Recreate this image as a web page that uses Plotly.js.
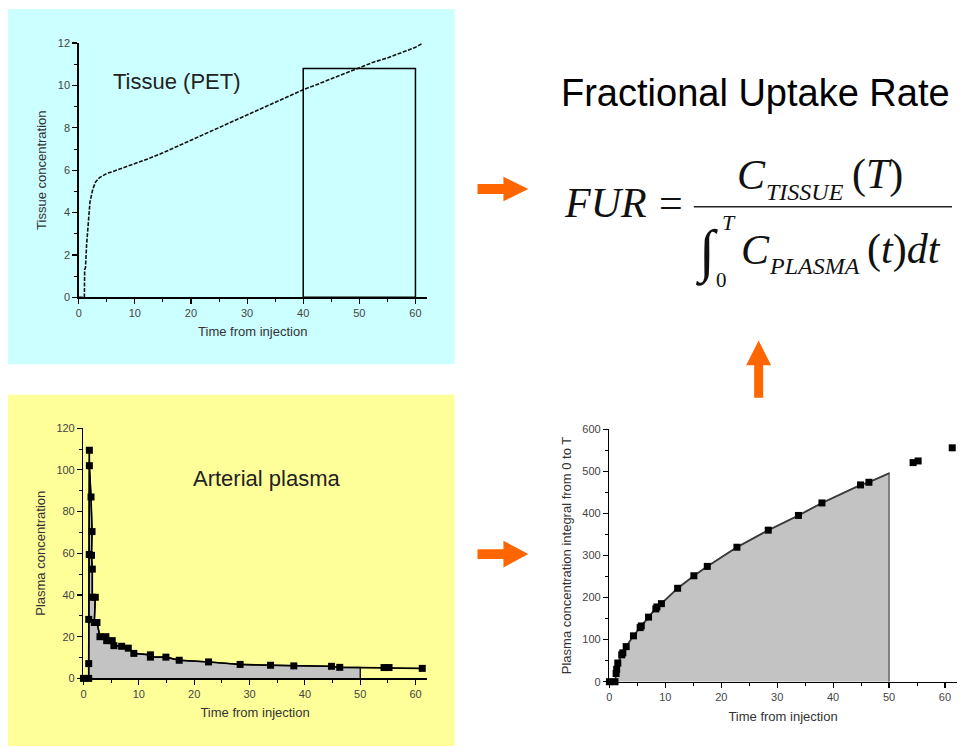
<!DOCTYPE html>
<html><head><meta charset="utf-8">
<script src="https://cdn.plot.ly/plotly-3.0.1.min.js"></script>
<style>html,body{margin:0;padding:0;background:#fff;overflow:hidden}</style>
</head><body><div id="chart" style="width:962px;height:752px"></div>
<script>
// ---------------- data ----------------
const tissueTime = [0, 1.0, 1.05, 1.2, 1.4, 1.7, 2.0, 2.5, 3.0, 3.7, 4.3, 5, 6, 8.4, 10.2, 12.5, 15, 17.5, 20.2, 22.5, 25, 27.5, 30.3, 32.5, 35, 37.5, 40, 42.5, 45, 47.5, 49.8, 52.5, 55, 57.5, 60, 61.3];
const tissueConc = [0, 0, 1.3, 1.4, 2.5, 3.6, 4.5, 5.1, 5.45, 5.65, 5.75, 5.85, 5.93, 6.15, 6.32, 6.55, 6.82, 7.12, 7.45, 7.72, 8.02, 8.32, 8.64, 8.92, 9.22, 9.52, 9.8, 10.05, 10.32, 10.58, 10.84, 11.1, 11.3, 11.55, 11.8, 12.0];

const plasmaTime = [0, 0.95, 0.95, 0.95, 1.05, 1.07, 1.07, 1.37, 1.55, 1.45, 1.6, 1.6, 2.14, 1.96, 2.44, 2.98, 4.05, 4.2, 5.2, 5.5, 6.9, 8.1, 9.1, 12.1, 12.1, 14.9, 17.3, 22.6, 28.3, 33.8, 38.0, 44.8, 46.3, 54.3, 55.2, 61.2];
const plasmaConc = [0, 0, 7.1, 28.3, 59.4, 109.4, 102, 87, 70.4, 59, 52.4, 38.9, 38.9, 26.8, 26.8, 20, 20, 18.1, 18.1, 15.7, 15.4, 14.5, 12, 11.3, 10.2, 10.2, 8.7, 7.9, 6.7, 6.3, 6.0, 5.8, 5.3, 5.2, 5.2, 4.8];

const integralTime  = [0, 1.0, 1.2, 1.3, 1.5, 2.2, 2.4, 3.0, 4.3, 5.5, 5.7, 7.0, 8.3, 8.5, 9.3, 12.2, 15.1, 17.5, 22.8, 28.4, 33.8, 38.0, 44.9, 46.4, 54.3, 55.2, 61.3];
const integralValue = [0, 0, 19.5, 29.6, 44.4, 63.9, 68.6, 83.4, 109, 128.6, 132.5, 153.5, 173, 177.7, 185.5, 222, 251.7, 274, 319.5, 360, 395, 424.7, 467.5, 473.8, 520.5, 524.4, 555.6];

const timeTicks = [0, 10, 20, 30, 40, 50, 60];
const tissueTicks = [0, 2, 4, 6, 8, 10, 12];
const plasmaTicks = [0, 20, 40, 60, 80, 100, 120];
const integralTicks = [0, 100, 200, 300, 400, 500, 600];

const integrationEnd = 50;     // T used for the shaded integral
const windowStart = 40;        // tissue frame
const windowEnd = 60;
const windowLevel = 10.8;

const xTitle = 'Time from injection';
const tissueTitle = 'Tissue concentration';
const plasmaTitle = 'Plasma concentration';
const integralTitle = 'Plasma concentration integral from 0 to T';

// ---------------- helpers ----------------
const W = 962, H = 752;
const px = v => v / W;
const py = v => 1 - v / H;

function clipAt(xs, ys, cut) {
  const ox = [], oy = [];
  let j = -1;
  for (let i = 0; i < xs.length; i++) {
    if (xs[i] > cut) { j = i; break; }
    ox.push(xs[i]); oy.push(ys[i]);
  }
  if (j > 0) {
    const f = (cut - xs[j - 1]) / (xs[j] - xs[j - 1]);
    ox.push(cut); oy.push(ys[j - 1] + f * (ys[j] - ys[j - 1]));
  }
  return {x: ox, y: oy};
}

const SANS = 'Liberation Sans, Arial, sans-serif';
const SERIF = 'Liberation Serif, Times New Roman, serif';

function xAxis(domain, range, anchor) {
  return {
    domain, range, anchor, tickmode: 'array', tickvals: timeTicks,
    showline: true, linecolor: '#000', linewidth: 1.5,
    ticks: 'outside', ticklen: 5, tickwidth: 1.2, tickcolor: '#000',
    minor: {dtick: 5, tick0: 0, ticks: 'outside', ticklen: 3, tickwidth: 1, tickcolor: '#000', showgrid: false},
    showgrid: false, zeroline: false, fixedrange: true,
    tickfont: {family: SANS, size: 11, color: '#444'},
    title: {text: xTitle, font: {family: SANS, size: 13, color: '#333'}, standoff: 9},
    automargin: true
  };
}
function yAxis(domain, range, ticks, minorStep, title, anchor) {
  return {
    domain, range, anchor, tickmode: 'array', tickvals: ticks,
    showline: true, linecolor: '#000', linewidth: 1.5,
    ticks: 'outside', ticklen: 5, tickwidth: 1.2, tickcolor: '#000',
    minor: {dtick: minorStep, tick0: 0, ticks: 'outside', ticklen: 3, tickwidth: 1, tickcolor: '#000', showgrid: false},
    showgrid: false, zeroline: false, fixedrange: true,
    tickfont: {family: SANS, size: 11, color: '#444'},
    title: {text: title, font: {family: SANS, size: 13, color: '#333'}, standoff: 8},
    automargin: true
  };
}

// ---------------- traces ----------------
const plasmaFill = clipAt(plasmaTime, plasmaConc, integrationEnd);
plasmaFill.x.push(integrationEnd); plasmaFill.y.push(0);
const integralCurve = clipAt(integralTime, integralValue, integrationEnd);
const integralFill = {x: integralCurve.x.concat([integrationEnd]), y: integralCurve.y.concat([0])};

const traces = [
  {x: tissueTime, y: tissueConc, xaxis: 'x', yaxis: 'y', type: 'scatter', mode: 'lines',
   line: {color: '#111', width: 1.6, dash: '4px,1.5px'}, hoverinfo: 'skip'},

  {x: plasmaFill.x, y: plasmaFill.y, xaxis: 'x2', yaxis: 'y2', type: 'scatter', mode: 'lines',
   fill: 'tozeroy', fillcolor: '#c3c3c3', line: {color: '#000', width: 1.3}, hoverinfo: 'skip'},
  {x: plasmaTime, y: plasmaConc, xaxis: 'x2', yaxis: 'y2', type: 'scatter', mode: 'lines+markers',
   line: {color: '#000', width: 1.6}, marker: {symbol: 'square', size: 7, color: '#000'},
   cliponaxis: false, hoverinfo: 'skip'},

  {x: integralFill.x, y: integralFill.y, xaxis: 'x3', yaxis: 'y3', type: 'scatter', mode: 'lines',
   fill: 'tozeroy', fillcolor: '#c3c3c3', line: {color: '#777', width: 1.8}, hoverinfo: 'skip'},
  {x: integralCurve.x, y: integralCurve.y, xaxis: 'x3', yaxis: 'y3', type: 'scatter', mode: 'lines',
   line: {color: '#3a3a3a', width: 1.6}, hoverinfo: 'skip'},
  {x: integralTime, y: integralValue, xaxis: 'x3', yaxis: 'y3', type: 'scatter', mode: 'markers',
   marker: {symbol: 'square', size: 7, color: '#000'}, cliponaxis: false, hoverinfo: 'skip'}
];

// ---------------- decorations ----------------
const ORANGE = '#ff6600';
function pathP(pts) {
  return 'M ' + pts.map(p => px(p[0]) + ',' + py(p[1])).join(' L ') + ' Z';
}
function arrowRight(x0, x1, headStart, cy, shaft, head) {
  return pathP([[x0, cy - shaft / 2], [headStart, cy - shaft / 2], [headStart, cy - head / 2], [x1, cy],
                [headStart, cy + head / 2], [headStart, cy + shaft / 2], [x0, cy + shaft / 2]]);
}
function arrowUp(cx, yBottom, yTip, headStart, shaft, head) {
  return pathP([[cx - shaft / 2, yBottom], [cx - shaft / 2, headStart], [cx - head / 2, headStart], [cx, yTip],
                [cx + head / 2, headStart], [cx + shaft / 2, headStart], [cx + shaft / 2, yBottom]]);
}

const shapes = [
  {type: 'rect', xref: 'paper', yref: 'paper', x0: px(5), x1: px(453), y0: py(364), y1: py(3),
   fillcolor: '#ccffff', line: {width: 0}, layer: 'below'},
  {type: 'rect', xref: 'paper', yref: 'paper', x0: px(5), x1: px(453), y0: py(752), y1: py(395),
   fillcolor: '#ffff99', line: {width: 0}, layer: 'below'},
  {type: 'rect', xref: 'x', yref: 'y', x0: windowStart, x1: windowEnd, y0: 0, y1: windowLevel,
   line: {color: '#000', width: 1.5}, fillcolor: 'rgba(0,0,0,0)'},
  {type: 'line', xref: 'paper', yref: 'paper', x0: px(693), x1: px(952), y0: py(204), y1: py(204),
   line: {color: '#222', width: 1.6}},
  {type: 'path', xref: 'paper', yref: 'paper', path: arrowRight(476, 527, 502, 186, 10, 25),
   fillcolor: ORANGE, line: {width: 0}},
  {type: 'path', xref: 'paper', yref: 'paper', path: arrowRight(476, 527, 502, 557, 10, 27),
   fillcolor: ORANGE, line: {width: 0}},
  {type: 'path', xref: 'paper', yref: 'paper', path: arrowUp(758, 398, 340, 365, 9, 25),
   fillcolor: ORANGE, line: {width: 0}}
];

function txt(x, baseline, size, text, family, anchor) {
  return {xref: 'paper', yref: 'paper', x: px(x), y: py(baseline - 0.34 * size),
          xanchor: anchor || 'left', yanchor: 'middle', showarrow: false, text,
          font: {family: family || SERIF, size, color: '#111'}};
}

const annotations = [
  {xref: 'paper', yref: 'paper', x: px(175), y: py(77), xanchor: 'center', yanchor: 'middle',
   showarrow: false, text: 'Tissue (PET)', font: {family: SANS, size: 22, color: '#222'}},
  {xref: 'paper', yref: 'paper', x: px(264), y: py(480), xanchor: 'center', yanchor: 'middle',
   showarrow: false, text: 'Arterial plasma', font: {family: SANS, size: 22, color: '#222'}},
  {xref: 'paper', yref: 'paper', x: px(755), y: py(88), xanchor: 'center', yanchor: 'middle',
   showarrow: false, text: 'Fractional Uptake Rate', font: {family: SANS, size: 38, color: '#000'}},

  txt(561, 214, 42, '<i>FUR</i>'),
  txt(656, 214, 42, '='),
  txt(734, 186, 42, '<i>C</i>'),
  txt(763, 197, 24, '<i>TISSUE</i>'),
  txt(850, 186, 42, '(<i>T</i>)'),
  {xref: 'paper', yref: 'paper', x: px(706), y: py(250), xanchor: 'center', yanchor: 'middle',
   showarrow: false, text: '∫', font: {family: SERIF, size: 58, color: '#111'}},
  txt(719, 227, 22, '<i>T</i>'),
  txt(713, 286, 21, '0'),
  txt(738, 262, 42, '<i>C</i>'),
  txt(766, 272, 24, '<i>PLASMA</i>'),
  txt(865, 262, 42, '(<i>t</i>)<i>dt</i>')
];

const layout = {
  width: W, height: H, margin: {l: 0, r: 0, t: 0, b: 0},
  paper_bgcolor: '#ffffff', plot_bgcolor: 'rgba(0,0,0,0)', showlegend: false,
  xaxis: xAxis([px(76), px(425)], [0, 62], 'y'),
  yaxis: yAxis([py(296), py(37.7)], [0, 12], tissueTicks, 1, tissueTitle, 'x'),
  xaxis2: xAxis([px(80.7), px(425)], [0, 62], 'y2'),
  yaxis2: yAxis([py(683.3), py(429)], [0, 120], plasmaTicks, 10, plasmaTitle, 'x2'),
  xaxis3: xAxis([px(608.3), px(956.7)], [0, 62.1], 'y3'),
  yaxis3: yAxis([py(686.7), py(430)], [0, 600], integralTicks, 50, integralTitle, 'x3'),
  shapes, annotations
};

Plotly.newPlot('chart', traces, layout, {displayModeBar: false, staticPlot: true});
</script></body></html>
